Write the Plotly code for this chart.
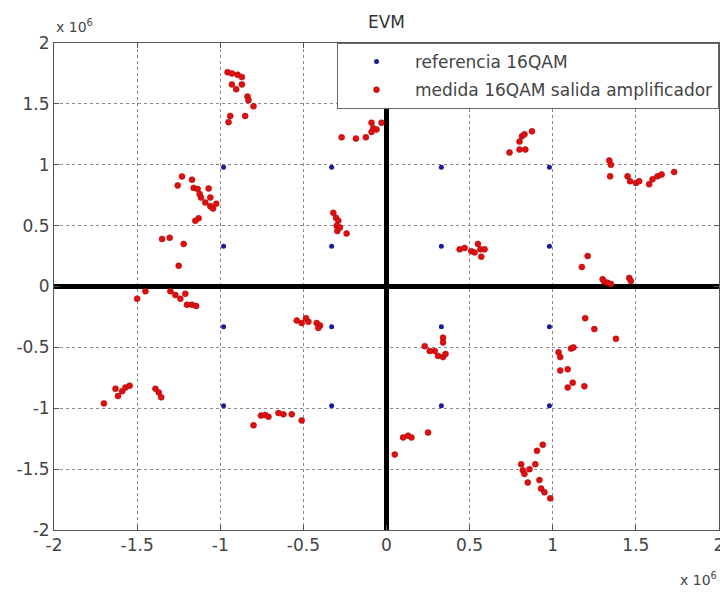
import numpy as np
import plotly.graph_objects as go

SCALE = 1e6

# Reference 16QAM constellation (units of 1e6)
ref_levels = [-0.98, -0.33, 0.33, 0.98]
ref_i = [i for i in ref_levels for q in ref_levels]
ref_q = [q for i in ref_levels for q in ref_levels]

meas_i = [
    # top-left far cluster
    -0.956, -0.930, -0.896, -0.870, -0.930, -0.904, -0.870, -0.836, -0.830, -0.800, -0.940, -0.950, -0.850,
    # upper-left inner
    -1.230, -1.170, -1.256, -1.160, -1.136, -1.124, -1.070, -1.116, -1.060, -1.090, -1.060, -1.024, -1.044, -1.130, -1.150,
    -1.350, -1.304, -1.220, -1.250,
    # near negative real axis
    -1.500, -1.450, -1.300, -1.270, -1.240, -1.210, -1.200, -1.170, -1.145,
    -0.540, -0.510, -0.484, -0.470, -0.420, -0.400, -0.410,
    # lower-left
    -1.700, -1.630, -1.615, -1.590, -1.570, -1.545, -1.390, -1.370, -1.355,
    -0.800, -0.755, -0.730, -0.710, -0.650, -0.620, -0.570, -0.510,
    # upper-middle
    -0.320, -0.304, -0.290, -0.300, -0.280, -0.296, -0.240,
    -0.270, -0.184, -0.124, -0.090, -0.080, -0.060, -0.090, -0.030, -0.060,
    # upper-right
    0.740, 0.800, 0.835, 0.800, 0.815, 0.830, 0.875,
    1.340, 1.350, 1.345, 1.450, 1.465, 1.500, 1.520, 1.580, 1.600, 1.630, 1.655, 1.730,
    0.440, 0.470, 0.510, 0.530, 0.550, 0.565, 0.590, 0.570,
    1.210, 1.175, 1.300, 1.310, 1.330, 1.350, 1.460, 1.470,
    # lower-right
    0.230, 0.290, 0.310, 0.340, 0.355, 0.340, 0.340, 0.260,
    1.195, 1.250, 1.380, 1.035, 1.045, 1.110, 1.125, 1.045, 1.090, 1.090, 1.120, 1.190,
    0.050, 0.100, 0.130, 0.150, 0.250,
    0.940, 0.905, 0.895, 0.810, 0.820, 0.830, 0.850, 0.920, 0.930, 0.950, 0.985, 0.860,
]
meas_q = [
    1.760, 1.750, 1.740, 1.720, 1.660, 1.620, 1.660, 1.560, 1.530, 1.480, 1.400, 1.350, 1.400,
    0.904, 0.877, 0.830, 0.810, 0.800, 0.760, 0.805, 0.730, 0.730, 0.690, 0.660, 0.680, 0.640, 0.560, 0.540,
    0.390, 0.400, 0.350, 0.170,
    -0.100, -0.040, -0.040, -0.070, -0.100, -0.060, -0.150, -0.150, -0.160,
    -0.280, -0.300, -0.260, -0.290, -0.300, -0.320, -0.340,
    -0.960, -0.840, -0.900, -0.860, -0.830, -0.815, -0.840, -0.870, -0.910,
    -1.140, -1.060, -1.055, -1.070, -1.040, -1.050, -1.050, -1.100,
    0.605, 0.565, 0.540, 0.500, 0.485, 0.455, 0.435,
    1.225, 1.215, 1.225, 1.270, 1.300, 1.290, 1.345, 1.345, 1.490,
    1.100, 1.125, 1.125, 1.190, 1.235, 1.250, 1.275,
    1.035, 1.000, 0.905, 0.905, 0.865, 0.850, 0.865, 0.840, 0.880, 0.905, 0.920, 0.940,
    0.305, 0.317, 0.290, 0.280, 0.350, 0.305, 0.305, 0.245,
    0.250, 0.160, 0.060, 0.040, 0.030, 0.020, 0.070, 0.045,
    -0.490, -0.530, -0.570, -0.580, -0.555, -0.420, -0.460, -0.530,
    -0.260, -0.350, -0.430, -0.540, -0.580, -0.510, -0.500, -0.690, -0.680, -0.830, -0.790, -0.820,
    -1.380, -1.240, -1.225, -1.240, -1.200,
    -1.300, -1.350, -1.460, -1.460, -1.510, -1.540, -1.610, -1.590, -1.660, -1.690, -1.740, -1.500,
]

tick_values = [-2, -1.5, -1, -0.5, 0, 0.5, 1, 1.5, 2]
tick_labels = ["-2", "-1.5", "-1", "-0.5", "0", "0.5", "1", "1.5", "2"]

FONT = "DejaVu Sans"
TXT = "#444444"

fig = go.Figure()
fig.add_trace(go.Scatter(
    x=np.array(ref_i) * SCALE, y=np.array(ref_q) * SCALE, mode="markers",
    name="referencia 16QAM", legendgroup="a",
    marker=dict(color="#1a1aa0", size=5),
))
fig.add_trace(go.Scatter(
    x=np.array(meas_i) * SCALE, y=np.array(meas_q) * SCALE, mode="markers",
    name="medida 16QAM salida amplificador", legendgroup="b",
    marker=dict(color="#e01010", size=6, line=dict(color="#a00000", width=0.5)),
))

axis_common = dict(
    tickvals=np.array(tick_values) * SCALE, ticktext=tick_labels,
    range=[-2 * SCALE, 2 * SCALE],
    showgrid=True, gridcolor="#8a8a8a", griddash="dot", gridwidth=1,
    zeroline=True, zerolinecolor="black", zerolinewidth=5,
    showline=True, linecolor="#555555", linewidth=1, mirror="ticks",
    ticks="inside", ticklen=5, tickcolor="#555555",
    tickfont=dict(family=FONT, size=17, color=TXT),
    ticklabeloverflow="allow", automargin=False,
)

fig.update_layout(
    width=720, height=592,
    margin=dict(l=54, r=1, t=43, b=62),
    paper_bgcolor="white", plot_bgcolor="white",
    xaxis=axis_common, yaxis=axis_common,
    title=dict(text="EVM", x=0.5, xref="paper", xanchor="center",
               y=1 - 22 / 592, yref="container", yanchor="middle",
               font=dict(family=FONT, size=17, color="#333333")),
    legend=dict(
        x=1, xanchor="right", y=1, yanchor="top",
        bgcolor="white", bordercolor="#666666", borderwidth=1,
        font=dict(family=FONT, size=17, color=TXT),
        itemwidth=67, tracegroupgap=3, traceorder="grouped",
    ),
    showlegend=True,
    annotations=[
        dict(text="x 10<sup>6</sup>", xref="paper", yref="paper", x=0.0, y=1,
             xanchor="left", yanchor="bottom", yshift=6, showarrow=False,
             font=dict(family=FONT, size=14, color=TXT)),
        dict(text="x 10<sup>6</sup>", xref="paper", yref="paper", x=1, y=0,
             xanchor="right", yanchor="top", yshift=-38, showarrow=False,
             font=dict(family=FONT, size=14, color=TXT)),
    ],
)

fig.write_html("out.html")
